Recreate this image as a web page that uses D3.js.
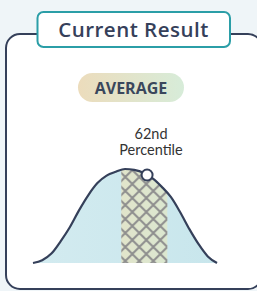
<!DOCTYPE html>
<html>
<head>
<meta charset="utf-8">
<script src="https://cdn.jsdelivr.net/npm/d3@7"></script>
<style>
  html, body { margin: 0; padding: 0; background: #eff5f8; }
  svg { display: block; }
</style>
</head>
<body>
<svg id="chart" width="257" height="291"></svg>
<script>
// curve: position (0-100) and relative height (0-100)
var positions = [0, 5, 10, 15, 20, 25, 30, 35, 40, 45, 50, 55, 60, 65, 70, 75, 80, 85, 90, 95, 100];
var heights   = [0, 3, 10, 23, 38, 56, 72, 85, 93, 97, 100, 99, 96, 90, 81, 70, 54, 36, 20, 7, 0];
var bandRange = [48, 73];      // "average" band
var marker = 62;               // current result
var title = "Current Result";
var bandLabel = "AVERAGE";
var markerLabel = ["62nd", "Percentile"];

var svg = d3.select("#chart");
var ink = "#35405a";

var x = d3.scaleLinear().domain([0, 100]).range([33, 217]);
var y = d3.scaleLinear().domain([0, 100]).range([263, 169]);

var data = positions.map(function (p, i) { return { p: p, h: heights[i] }; });

var defs = svg.append("defs");

var band = defs.append("linearGradient").attr("id", "bandGrad");
band.append("stop").attr("offset", "0%").attr("stop-color", "#ecdfc0");
band.append("stop").attr("offset", "100%").attr("stop-color", "#d5ead6");

var pill = defs.append("linearGradient").attr("id", "pillGrad");
pill.append("stop").attr("offset", "0%").attr("stop-color", "#ecdcbc");
pill.append("stop").attr("offset", "100%").attr("stop-color", "#d7ecd9");

var blue = defs.append("linearGradient").attr("id", "blueGrad");
blue.append("stop").attr("offset", "0%").attr("stop-color", "#d3ebf0");
blue.append("stop").attr("offset", "100%").attr("stop-color", "#c8e6ec");

var hs = 14;
var hatch = defs.append("pattern")
  .attr("id", "hatch")
  .attr("patternUnits", "userSpaceOnUse")
  .attr("width", hs).attr("height", hs)
  .attr("x", x(bandRange[0]) - 3).attr("y", 2);
hatch.append("path")
  .attr("d", "M0,0L" + hs + "," + hs + "M" + hs + ",0L0," + hs +
    "M-2," + (hs - 2) + "L2," + (hs + 2) + "M" + (hs - 2) + ",-2L" + (hs + 2) + ",2")
  .attr("stroke", "#8e8e8e")
  .attr("stroke-width", 2)
  .attr("fill", "none");

defs.append("clipPath").attr("id", "bandClip")
  .append("rect")
  .attr("x", x(bandRange[0]))
  .attr("y", 0)
  .attr("width", x(bandRange[1]) - x(bandRange[0]))
  .attr("height", 291);

// outer card
svg.append("rect")
  .attr("x", 6).attr("y", 34)
  .attr("width", 256).attr("height", 255)
  .attr("rx", 14)
  .attr("fill", "#ffffff")
  .attr("stroke", ink)
  .attr("stroke-width", 2);

// title box
svg.append("rect")
  .attr("x", 37.5).attr("y", 12)
  .attr("width", 192.5).attr("height", 35)
  .attr("rx", 6)
  .attr("fill", "#ffffff")
  .attr("stroke", "#2b9ea7")
  .attr("stroke-width", 2);

svg.append("text")
  .attr("x", 133.5).attr("y", 36.5)
  .attr("text-anchor", "middle")
  .attr("font-family", "'Open Sans', sans-serif")
  .attr("font-weight", 600)
  .attr("font-size", 20.5)
  .attr("letter-spacing", 0.5)
  .attr("fill", ink)
  .text(title);

// AVERAGE pill
svg.append("rect")
  .attr("x", 78).attr("y", 73)
  .attr("width", 106).attr("height", 29)
  .attr("rx", 14.5)
  .attr("fill", "url(#pillGrad)");

svg.append("text")
  .attr("x", 131).attr("y", 93.5)
  .attr("text-anchor", "middle")
  .attr("font-family", "'Open Sans', sans-serif")
  .attr("font-weight", 700)
  .attr("font-size", 16)
  .attr("fill", "#3a475c")
  .text(bandLabel);

// marker label
svg.append("text")
  .attr("x", 151).attr("y", 138.5)
  .attr("text-anchor", "middle")
  .attr("font-family", "Lato, sans-serif")
  .attr("font-size", 14.5)
  .attr("fill", "#333333")
  .selectAll("tspan")
  .data(markerLabel)
  .enter().append("tspan")
  .attr("x", 151)
  .attr("dy", function (d, i) { return i ? 16.5 : 0; })
  .text(function (d) { return d; });

// distribution
var area = d3.area()
  .x(function (d) { return x(d.p); })
  .y0(y(0))
  .y1(function (d) { return y(d.h); })
  .curve(d3.curveMonotoneX);

var line = d3.line()
  .x(function (d) { return x(d.p); })
  .y(function (d) { return y(d.h); })
  .curve(d3.curveMonotoneX);

svg.append("path").datum(data)
  .attr("d", area)
  .attr("fill", "url(#blueGrad)");

var g = svg.append("g").attr("clip-path", "url(#bandClip)");
g.append("path").datum(data)
  .attr("d", area)
  .attr("fill", "url(#bandGrad)");
g.append("path").datum(data)
  .attr("d", area)
  .attr("fill", "url(#hatch)");

svg.append("path").datum(data)
  .attr("d", line)
  .attr("fill", "none")
  .attr("stroke", ink)
  .attr("stroke-width", 2.2);

// marker dot, sitting on the curve
var mh = d3.scaleLinear().domain(positions).range(heights);
svg.append("circle")
  .attr("cx", x(marker))
  .attr("cy", y(mh(marker)))
  .attr("r", 5.5)
  .attr("fill", "#ffffff")
  .attr("stroke", ink)
  .attr("stroke-width", 2);
</script>
</body>
</html>
